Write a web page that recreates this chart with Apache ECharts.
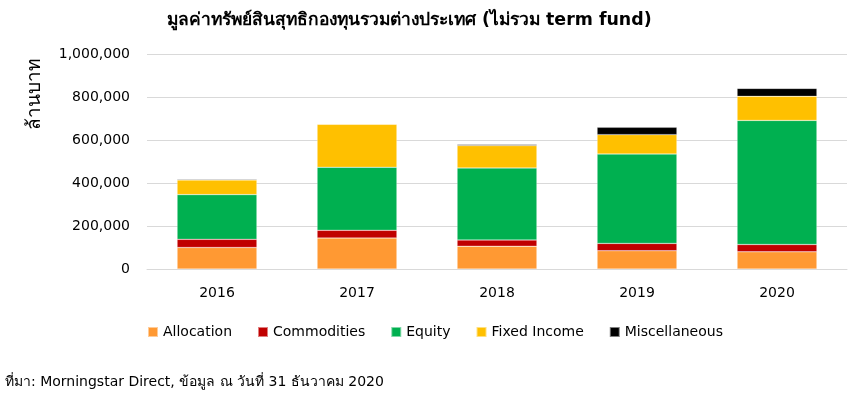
<!DOCTYPE html>
<html><head><meta charset="utf-8">
<script src="https://cdn.jsdelivr.net/npm/echarts@6/dist/echarts.min.js"></script>
<style>html,body{margin:0;padding:0;background:#fff}#c{width:859px;height:396px}</style>
</head><body><div id="c"></div>
<script>
const categories = ['2016','2017','2018','2019','2020'];
const allocation = [100000, 144000, 106000, 85000, 80000];
const commodities = [38000, 36000, 29000, 34000, 34000];
const equity = [208000, 293000, 335000, 416000, 577000];
const fixedIncome = [68000, 200000, 104000, 90000, 112000];
const miscellaneous = [4000, 2000, 5000, 34000, 37000];
const yTicks = [0, 200000, 400000, 600000, 800000, 1000000];

const F = '"DejaVu Sans", "Noto Sans", sans-serif';
const chart = echarts.init(document.getElementById('c'));
const mk = (name, data, color) => ({
  name, type: 'bar', stack: 'total', data, barWidth: '57%',
  itemStyle: { color, borderColor: 'rgba(255,255,255,0.5)', borderWidth: 0.5 }
});
chart.setOption({
  animation: false,
  title: {
    text: 'มูลค่าทรัพย์สินสุทธิกองทุนรวมต่างประเทศ (ไม่รวม term fund)',
    left: 162, top: 7,
    textStyle: { fontFamily: F, fontSize: 17.4, fontWeight: 'bold', color: '#000' }
  },
  grid: { left: 147, right: 12, top: 54, bottom: 127 },
  legend: {
    bottom: 52, left: 142, itemWidth: 10, itemHeight: 10, itemGap: 25,
    icon: 'rect',
    textStyle: { fontFamily: F, fontSize: 14, color: '#000' },
    data: ['Allocation','Commodities','Equity','Fixed Income','Miscellaneous']
  },
  xAxis: {
    type: 'category', data: categories,
    axisLine: { lineStyle: { color: '#d9d9d9' } },
    axisTick: { show: false },
    axisLabel: { fontFamily: F, fontSize: 14, color: '#000', margin: 17 }
  },
  yAxis: {
    type: 'value', min: 0, max: 1000000, interval: 200000,
    axisLine: { show: false }, axisTick: { show: false },
    splitLine: { lineStyle: { color: '#d9d9d9', width: 1 } },
    axisLabel: {
      fontFamily: F, fontSize: 14, color: '#000', margin: 17,
      formatter: v => yTicks.includes(v) ? v.toLocaleString('en-US') : ''
    }
  },
  graphic: [
    { type: 'text', left: 26, top: 58, rotation: Math.PI / 2,
      style: { text: 'ล้านบาท', font: '19px ' + F, fill: '#000' } },
    { type: 'text', left: 5, top: 375,
      style: { text: 'ที่มา: Morningstar Direct, ข้อมูล ณ วันที่ 31 ธันวาคม 2020', font: '14px ' + F, fill: '#000' } }
  ],
  series: [
    mk('Allocation', allocation, '#FF9933'),
    mk('Commodities', commodities, '#C00000'),
    mk('Equity', equity, '#00B050'),
    mk('Fixed Income', fixedIncome, '#FFC000'),
    mk('Miscellaneous', miscellaneous, '#000000')
  ]
});
</script></body></html>
